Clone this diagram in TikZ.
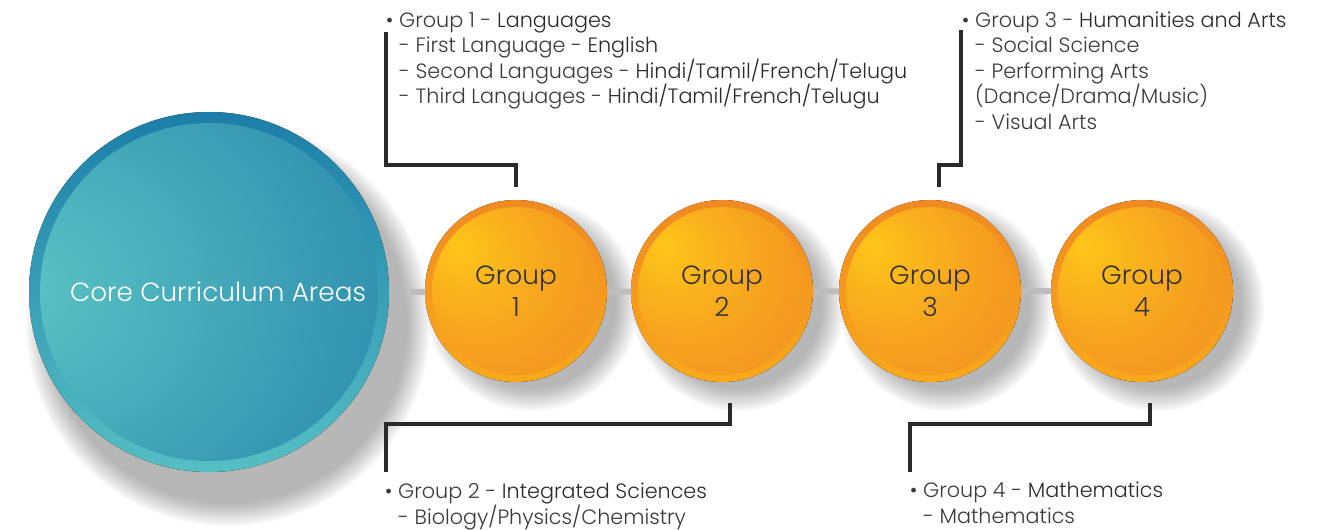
\documentclass[tikz,border=0pt]{standalone}
\usepackage{fontspec}
\setmainfont{Poppins}[UprightFont=* Light, BoldFont=* Regular]
\usetikzlibrary{calc}
\definecolor{oyellow}{HTML}{FDC619}
\definecolor{omid}{HTML}{F7A51F}
\definecolor{oorange}{HTML}{EE7E24}
\definecolor{oringtop}{HTML}{F08A22}
\definecolor{oringbot}{HTML}{F9A81B}
\definecolor{blight}{HTML}{5CC5C5}
\definecolor{bmid}{HTML}{3597B2}
\definecolor{bdark}{HTML}{1A76A4}
\definecolor{bringtop}{HTML}{1C7EA8}
\definecolor{bringbot}{HTML}{55BFC4}
\definecolor{linegray}{HTML}{BDBDBD}
\definecolor{conncol}{HTML}{2A2A2A}
\definecolor{txtkey}{HTML}{3A3A3A}
\definecolor{txtval}{HTML}{2A2A2A}
\pgfdeclareradialshading{orangeball}{\pgfpoint{-18bp}{14bp}}{color(0bp)=(oyellow); color(22bp)=(omid); color(60bp)=(oorange)}
\pgfdeclareradialshading{blueball}{\pgfpoint{-30bp}{0bp}}{color(0bp)=(blight); color(35bp)=(bmid); color(70bp)=(bdark)}
\pgfdeclarelayer{shadowlayer}
\pgfdeclarelayer{linklayer}
\pgfsetlayers{shadowlayer,linklayer,main}
\tikzset{
  gball/.style={circle, inner sep=0pt, minimum size=168bp, shading=orangeball,
    text=black!80, align=center, font=\fontsize{26.5}{32}\selectfont},
  coreball/.style={circle, inner sep=0pt, minimum size=338bp, shading=blueball},
  conn/.style={draw=conncol, line width=3.2bp},
  gline/.style={draw=linegray, line width=6bp},
  txt/.style={anchor=base west, align=left, inner sep=0pt, text=txtkey,
    font=\fontsize{20.8}{25.7}\selectfont},
}
\newcommand{\softshadow}[3]{%
  \foreach \k in {0,...,11}{\fill[black, opacity=0.028] (#1,#2) circle ({#3+2*\k});}}
\newcommand{\vv}[1]{\textcolor{txtval}{#1}}
\begin{document}
\begin{tikzpicture}[x=1bp, y=-1bp]
\useasboundingbox (0,0) rectangle (1329,530);
% shadows
\begin{pgfonlayer}{shadowlayer}
\softshadow{228}{324}{180}
\softshadow{532}{305}{84}
\softshadow{738}{305}{84}
\softshadow{946}{305}{84}
\softshadow{1158}{305}{84}
\end{pgfonlayer}
% rings
\fill[top color=bringtop, bottom color=bringbot] (209,292) circle (180);
\foreach \cx in {516,722,930,1142}{
  \fill[top color=oringtop, bottom color=oringbot] (\cx,291) circle (91);}
% circles
\node[coreball] (core) at (209,292) {};
\node[gball] (g1) at (516,291) {Group\\1};
\node[gball] (g2) at (722,291) {Group\\2};
\node[gball] (g3) at (930,291) {Group\\3};
\node[gball] (g4) at (1142,291) {Group\\4};
\node[text=white, font=\fontsize{26.4}{30}\selectfont] (coretitle) at (218,292) {Core Curriculum Areas};
% gray links
\begin{pgfonlayer}{linklayer}
\draw[gline] ([xshift=33bp]core.east) -- (g4.west);
\end{pgfonlayer}
% connectors
\coordinate (c1a) at (386,165); \coordinate (c1b) at (386,32);
\coordinate (c3a) at (961,165); \coordinate (c3b) at (961,30);
\coordinate (c2a) at (386,424); \coordinate (c2b) at (386,472);
\coordinate (c4a) at (910,424); \coordinate (c4b) at (910,472);
\draw[conn] ([yshift=20bp]g1.north) |- (c1a) -- (c1b);
\draw[conn] ([xshift=9bp,yshift=20bp]g3.north) |- (c3a) -- (c3b);
\draw[conn] ([xshift=8bp,yshift=-28bp]g2.south) |- (c2a) -- (c2b);
\draw[conn] ([xshift=8bp,yshift=-28bp]g4.south) |- (c4a) -- (c4b);
% texts (anchor base = last line)
\node[txt] (t1) at (399,104) {\llap{\textbullet\ }Group 1 - \vv{Languages}\\
- First Language - \vv{English}\\
- Second Languages - \vv{Hindi/Tamil/French/Telugu}\\
- Third Languages - \vv{Hindi/Tamil/French/Telugu}};
\node[txt] (t3) at (975,129.5) {\llap{\textbullet\ }Group 3 - \vv{Humanities and Arts}\\
- Social Science\\
- Performing Arts\\
(Dance/Drama/Music)\\
- Visual Arts};
\node[txt] (t2) at (398,524.5) {\llap{\textbullet\ }Group 2 - \vv{Integrated Sciences}\\
- Biology/Physics/Chemistry};
\node[txt] (t4) at (923,523.5) {\llap{\textbullet\ }Group 4 - \vv{Mathematics}\\
- Mathematics};
\end{tikzpicture}
\end{document}
